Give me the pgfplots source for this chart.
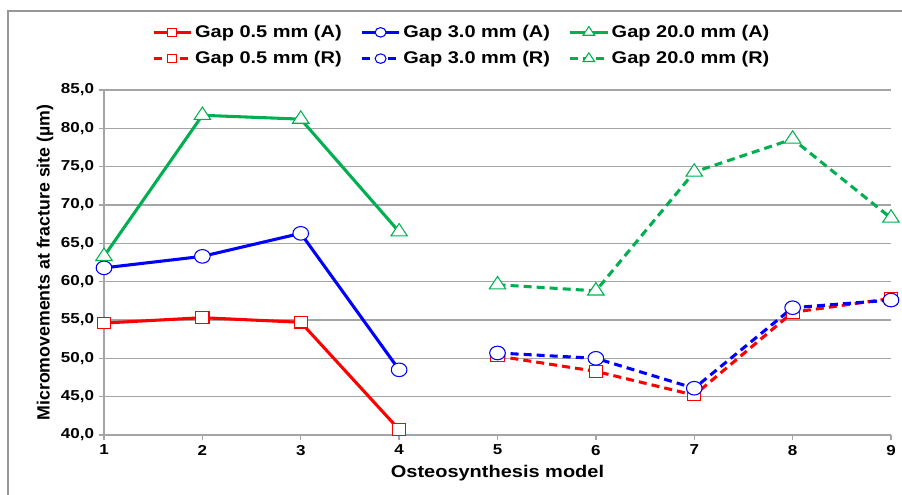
\documentclass[border=0pt]{standalone}
\usepackage{fontspec}
\setmainfont{Liberation Sans}[FakeStretch=1.18]
\newfontfamily\plainsans{Liberation Sans}
\usepackage{pgfplots}
\pgfplotsset{compat=1.18}

\definecolor{xred}{RGB}{255,0,0}
\definecolor{xblue}{RGB}{0,0,255}
\definecolor{xgreen}{RGB}{0,176,80}
\definecolor{gridgray}{RGB}{165,165,165}
\definecolor{framegray}{RGB}{150,150,150}

\pgfplotsset{
  gapA/.style={solid, line width=2.3pt, mark options={solid, fill=white, line width=0.8pt, xscale=1.15}},
  gapR/.style={dash pattern=on 6pt off 3.8pt, line width=2.3pt, mark options={solid, fill=white, line width=0.8pt, xscale=1.15}},
}

\begin{document}
\begin{tikzpicture}
\useasboundingbox (0,0) rectangle (676.5pt,371.25pt);
\draw[framegray, line width=1.2pt] (6pt,0) -- (6pt,363pt) -- (676.5pt,363pt);
\begin{axis}[
    at={(78pt,45pt)}, anchor=south west,
    scale only axis,
    width=590.25pt, height=258.75pt,
    xmin=1, xmax=9, ymin=40, ymax=85,
    xtick={1,...,9},
    ytick={40,45,...,85},
    axis lines=left,
    axis line style={-, gridgray, line width=1pt},
    tick style={gridgray, line width=1pt},
    tick align=outside,
    major tick length=4pt,
    ymajorgrids,
    grid style={gridgray, line width=1pt},
    clip=false,
    /pgf/number format/assume math mode=true,
    yticklabel style={/pgf/number format/.cd, fixed, fixed zerofill, precision=1, use comma},
    ticklabel style={font=\fontsize{10.8}{12}\selectfont\bfseries},
    xlabel={Osteosynthesis model},
    xlabel style={at={(axis description cs:0.5,-0.11)}, anchor=center, font=\fontsize{12.7}{15}\selectfont\bfseries},
    ylabel={Micromovements at fracture site (µm)},
    ylabel style={at={(axis description cs:-0.075,0.5)}, anchor=center, font=\plainsans\bfseries\fontsize{13.3}{16}\selectfont},
    legend columns=3,
    legend style={at={(axis description cs:0.455,1.129)}, anchor=center, draw=none, fill=none,
      font=\fontsize{12.7}{15}\selectfont\bfseries, row sep=5pt,
      /tikz/every even column/.append style={column sep=12pt}},
    legend image code/.code={\draw[mark repeat=2, mark phase=2, every mark/.append style={scale=0.7}]
      plot coordinates {(0pt,0pt) (14pt,0pt) (28pt,0pt)};},
]
\addplot[xred, gapA, mark=square*, mark size=4.3pt] coordinates {(1,54.6) (2,55.3) (3,54.7) (4,40.7)};
\addlegendentry{Gap 0.5 mm (A)}
\addplot[xblue, gapA, mark=*, mark size=5.1pt] coordinates {(1,61.8) (2,63.3) (3,66.3) (4,48.5)};
\addlegendentry{Gap 3.0 mm (A)}
\addplot[xgreen, gapA, mark=triangle*, mark size=6.2pt] coordinates {(1,63.3) (2,81.7) (3,81.2) (4,66.5)};
\addlegendentry{Gap 20.0 mm (A)}
\addplot[xred, gapR, mark=square*, mark size=4.3pt] coordinates {(5,50.3) (6,48.3) (7,45.2) (8,56.0) (9,57.8)};
\addlegendentry{Gap 0.5 mm (R)}
\addplot[xblue, gapR, mark=*, mark size=5.1pt] coordinates {(5,50.7) (6,50.0) (7,46.1) (8,56.6) (9,57.6)};
\addlegendentry{Gap 3.0 mm (R)}
\addplot[xgreen, gapR, mark=triangle*, mark size=6.2pt] coordinates {(5,59.6) (6,58.8) (7,74.3) (8,78.6) (9,68.3)};
\addlegendentry{Gap 20.0 mm (R)}
\end{axis}
\end{tikzpicture}
\end{document}
